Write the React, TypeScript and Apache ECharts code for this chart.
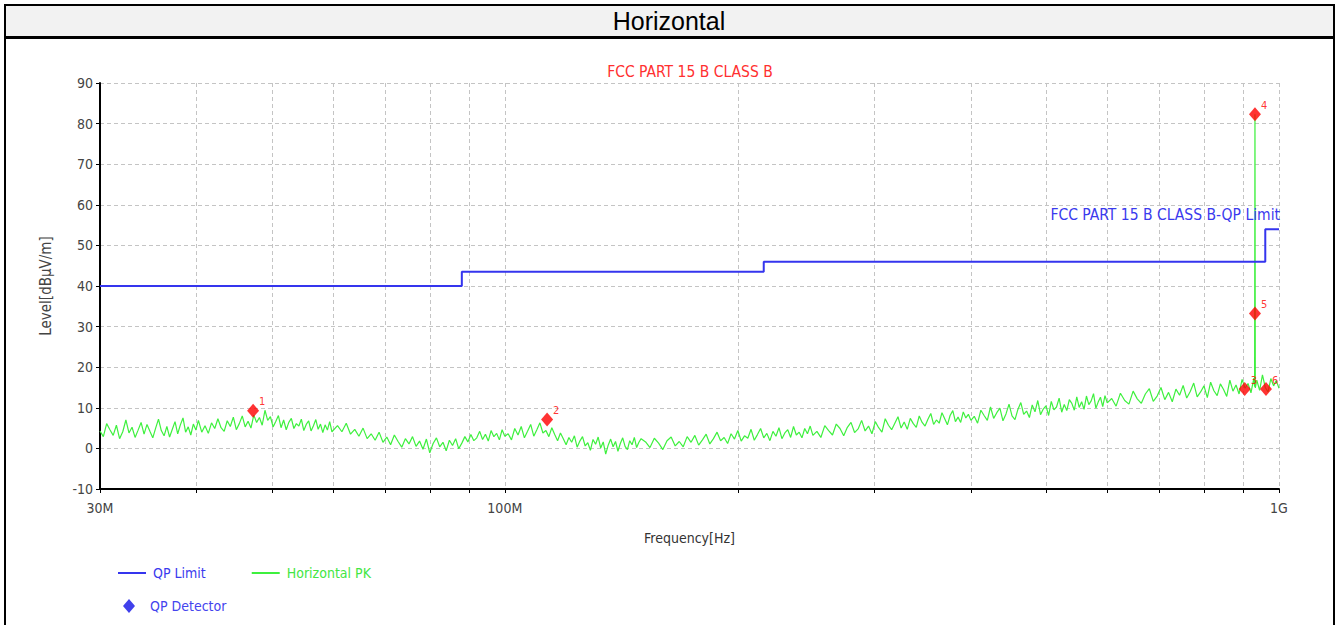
import React, { useEffect, useRef } from 'react';
import * as echarts from 'echarts';

const FONT = '"Liberation Sans Narrow", "DejaVu Sans Condensed", "Liberation Sans", Arial, sans-serif';
const WIDE = '"Liberation Sans", Arial, sans-serif';

const BLUE = '#3535ee';
const GREEN = '#3ef03e';
const RED = '#ff0000';

// Axis ticks / labels (MHz)
const xLabelFreq = [30, 100, 1000];
const xLabelText = ['30M', '100M', '1G'];
const xGridFreq = [30, 40, 50, 60, 70, 80, 90, 100, 200, 300, 400, 500, 600, 700, 800, 900, 1000];
const yMin = -10;
const yMax = 90;
const yStep = 10;

// QP limit (MHz, dBuV/m)
const limitFreq = [30, 88, 88, 216, 216, 960, 960, 1000];
const limitLevel = [40, 40, 43.5, 43.5, 46, 46, 54, 54];

// QP detector points
const qpFreq = [47.3, 113.4, 903, 931, 931, 962];
const qpLevel = [9.3, 7.1, 14.6, 82.3, 33.2, 14.6];
const qpLabel = ['1', '2', '3', '4', '5', '6'];

// Horizontal PK trace (MHz, dBuV/m)
const pkSweepA = [[30,4.3],[30.3,2.9],[30.6,6.1],[30.9,4.6],[31.2,3.2],[31.5,5.7],[31.8,2.4],[32.1,4.1],[32.4,7.0],[32.7,3.8],[33,5.2],[33.3,2.7],[33.6,4.5],[33.9,6.4],[34.2,3.5],[34.5,5.9],[34.8,4.2],[35.1,2.6],[35.4,5.0],[35.7,7.2],[36,4.4],[36.3,3.1],[36.6,5.4],[36.9,2.8],[37.2,4.7],[37.5,6.6],[37.8,3.6],[38.1,5.8],[38.4,7.5],[38.7,4.0],[39,5.3],[39.3,3.3],[39.6,6.0],[39.9,4.5]];
const pkSweepB = [[40.2,6.9],[40.6,4.0],[41,5.6],[41.4,3.7],[41.8,6.3],[42.2,4.9],[42.6,7.3],[43,5.1],[43.4,4.2],[43.8,6.8],[44.2,5.4],[44.6,7.7],[45,4.6],[45.4,6.1],[45.8,8.0],[46.2,5.3],[46.6,6.7],[47,5.0],[47.4,8.2],[47.8,6.4],[48.2,7.6],[48.6,5.7],[49,9.4],[49.4,6.9],[49.8,7.8],[50.2,5.3],[50.6,6.6],[51,8.1],[51.4,5.1],[51.8,7.0],[52.2,4.6],[52.6,6.4],[53,7.4],[53.4,4.9],[53.8,6.1],[54.2,5.5],[54.6,7.2],[55,4.4],[55.4,5.9],[55.8,6.8],[56.2,4.3],[56.6,5.6],[57,7.1],[57.4,4.7],[57.8,6.0],[58.2,3.9],[58.6,5.8],[59,4.5],[59.4,6.6],[59.8,4.1]];
const pkSweepC = [[60.8,5.6],[61.6,4.1],[62.4,6.2],[63.2,3.5],[64,4.7],[64.8,3.0],[65.6,5.0],[66.4,2.4],[67.2,3.6],[68,2.0],[68.8,4.0],[69.6,1.5],[70.4,2.8],[71.2,0.9],[72,3.3],[72.8,1.7],[73.6,0.3],[74.4,2.4],[75.2,1.1],[76,2.9],[76.8,0.5],[77.6,1.8],[78.4,-0.2],[79.2,2.3],[80,-1.1],[80.8,1.2],[81.6,2.6],[82.4,0.4],[83.2,1.5],[84,-0.6],[84.8,2.0],[85.6,0.7],[86.4,2.4],[87.2,-0.1],[88,1.3],[88.8,2.9],[89.6,1.6],[90.4,3.4],[91.2,1.9],[92,2.6],[92.8,4.2],[93.6,2.2],[94.4,3.5],[95.2,1.8],[96,4.4],[96.8,2.9],[97.6,3.7],[98.4,2.1],[99.2,4.6],[100,3.0]];
const pkSweepD = [[101,3.6],[102,2.1],[103,4.9],[104,3.3],[105,5.4],[106,2.6],[107,4.2],[108,5.9],[109,3.0],[110,4.6],[111,6.3],[112,3.8],[113,4.4],[114,2.9],[115,5.1],[116,3.4],[117,1.9],[118,3.8],[119,2.4],[120,0.9],[121,2.7],[122,1.5],[123,3.1],[124,0.3],[125,1.8],[126,2.9],[127,0.6],[128,1.4],[129,-0.5],[130,2.2],[131,1.0],[132,2.8],[133,0.1],[134,1.6],[135,-1.4],[136,0.8],[137,2.3],[138,0.4],[139,1.7],[140,-0.7],[141,1.2],[142,2.6],[143,0.5],[144,-0.3],[145,1.9],[146,0.9],[147,2.7],[148,0.2],[149,1.5],[150,2.4]];
const pkSweepE = [[152,1.6],[154,0.2],[156,2.5],[158,1.3],[160,-0.3],[162,1.9],[164,2.8],[166,0.6],[168,1.7],[170,0.4],[172,2.9],[174,1.5],[176,3.2],[178,0.8],[180,2.1],[182,3.5],[184,1.1],[186,2.4],[188,4.0],[190,1.9],[192,2.7],[194,1.2],[196,3.6],[198,2.3],[200,4.4],[202,1.8],[204,3.1],[206,2.5],[208,4.7],[210,2.0],[212,3.4],[214,4.9],[216,2.6],[218,3.7],[220,1.9],[222,4.2],[224,3.0],[226,5.1],[228,2.4],[230,3.8],[232,4.6],[234,2.7],[236,5.4],[238,3.3],[240,4.0],[242,2.6],[244,4.9],[246,3.6],[248,5.5],[250,3.2]];
const pkSweepF = [[253,4.2],[256,2.7],[259,5.6],[262,4.4],[265,3.3],[268,6.0],[271,4.9],[274,3.1],[277,5.2],[280,6.4],[283,3.9],[286,4.8],[289,6.9],[292,4.3],[295,5.5],[298,3.6],[301,6.6],[304,5.1],[307,4.0],[310,7.3],[313,5.7],[316,4.6],[319,6.2],[322,7.8],[325,5.0],[328,6.5],[331,4.7],[334,7.4],[337,6.1],[340,5.2],[343,8.0],[346,6.4],[349,5.5],[352,7.2],[355,8.6],[358,5.9],[361,7.0],[364,6.2],[367,8.8],[370,7.3],[373,5.8],[376,8.1],[379,9.3],[382,6.6],[385,7.7],[388,6.4],[391,9.0],[394,7.5],[397,8.4],[400,6.9]];
const pkSweepG = [[404,7.9],[408,6.2],[412,9.4],[416,8.1],[420,6.9],[424,10.2],[428,7.4],[432,8.8],[436,9.9],[440,6.8],[444,8.5],[448,10.9],[452,8.0],[456,7.1],[460,9.6],[464,11.3],[468,8.4],[472,9.2],[476,7.6],[480,10.7],[484,9.0],[488,11.8],[492,8.3],[496,9.7],[500,10.5],[504,8.1],[508,11.6],[512,9.5],[516,10.2],[520,12.4],[524,8.9],[528,10.8],[532,9.3],[536,12.0],[540,11.1],[544,9.4],[548,12.7],[552,10.1],[556,11.5],[560,9.6],[564,12.9],[568,10.8],[572,11.7],[576,13.5],[580,9.9],[584,11.4],[588,12.6],[592,10.3],[596,13.0],[600,11.2]];
const pkSweepH = [[608,12.3],[616,10.4],[624,13.6],[632,11.8],[640,10.9],[648,14.1],[656,12.2],[664,11.1],[672,13.4],[680,14.7],[688,11.6],[696,12.9],[704,15.0],[712,12.0],[720,13.8],[728,11.5],[736,14.6],[744,13.1],[752,15.5],[760,12.4],[768,14.0],[776,16.1],[784,12.7],[792,13.9],[800,15.4],[808,12.5],[816,16.3],[824,14.2],[832,13.0],[840,15.9],[848,14.5],[856,12.8],[864,16.8],[872,14.1],[880,15.6],[888,13.4],[896,17.0],[904,14.8],[912,16.0],[920,13.7],[928,17.3],[930,15.2],[931,82.3],[932,14.9],[936,16.8],[944,14.3],[952,18.1],[960,15.0],[968,13.9],[976,17.2],[984,15.4],[992,16.7],[1000,14.8]];

const lg = (f: number) => Math.log10(f);

export default function App() {
  const ref = useRef<HTMLDivElement>(null);

  useEffect(() => {
    if (!ref.current) return;
    const chart = echarts.init(ref.current, null, { renderer: 'svg' });

    const pk = [...pkSweepA, ...pkSweepB, ...pkSweepC, ...pkSweepD, ...pkSweepE, ...pkSweepF, ...pkSweepG, ...pkSweepH]
      .map(([f, v]) => [lg(f), v]);
    const limit = limitFreq.map((f, i) => [lg(f), limitLevel[i]]);
    const qp = qpFreq.map((f, i) => ({ value: [lg(f), qpLevel[i]], name: qpLabel[i] }));

    const labelLogs = xLabelFreq.map(lg);
    const gridLogs = xGridFreq.map(lg);
    const fmtX = (v: number) => {
      let best = 0;
      let d = Infinity;
      labelLogs.forEach((l, i) => {
        if (Math.abs(l - v) < d) { d = Math.abs(l - v); best = i; }
      });
      return xLabelText[best];
    };

    chart.setOption({
      animation: false,
      backgroundColor: '#ffffff',
      grid: { left: 100, right: 59, top: 83, bottom: 136, containLabel: false },
      xAxis: {
        type: 'value',
        min: lg(30),
        max: 3,
        name: 'Frequency[Hz]',
        nameLocation: 'middle',
        nameGap: 42,
        nameTextStyle: { fontFamily: FONT, fontSize: 14, color: '#333' },
        axisLine: { show: true, onZero: false, lineStyle: { color: '#000', width: 2 } },
        axisTick: { show: true, length: 4, customValues: gridLogs, lineStyle: { color: '#000' } },
        axisLabel: {
          customValues: labelLogs,
          formatter: fmtX,
          fontFamily: FONT,
          fontSize: 14,
          color: '#444',
          margin: 12,
        },
        splitLine: { show: true, customValues: gridLogs, lineStyle: { color: '#c4c4c4', type: [4, 3], width: 1 } },
      },
      yAxis: {
        type: 'value',
        min: yMin,
        max: yMax,
        interval: yStep,
        name: 'Level[dBμV/m]',
        nameLocation: 'middle',
        nameGap: 47,
        nameRotate: 90,
        nameTextStyle: { fontFamily: FONT, fontSize: 15, color: '#444' },
        axisLine: { show: true, onZero: false, lineStyle: { color: '#000', width: 2 } },
        axisTick: { show: true, length: 4, lineStyle: { color: '#000' } },
        axisLabel: { fontFamily: FONT, fontSize: 14, color: '#444', margin: 7 },
        splitLine: { show: true, lineStyle: { color: '#c4c4c4', type: [4, 3], width: 1 } },
      },
      legend: [
        {
          left: 118,
          top: 566,
          padding: 0,
          itemWidth: 28,
          itemHeight: 2,
          itemGap: 46,
          data: [
            { name: 'QP Limit', icon: 'rect', textStyle: { color: '#3a3aee' } },
            { name: 'Horizontal PK', icon: 'rect', textStyle: { color: '#44e644' } },
          ],
          textStyle: { fontFamily: FONT, fontSize: 14, padding: [0, 0, 0, 2] },
        },
        {
          left: 123,
          top: 599,
          padding: 0,
          itemWidth: 12,
          itemHeight: 14,
          icon: 'diamond',
          data: [{ name: 'QP Detector', itemStyle: { color: '#1010e6' }, textStyle: { color: '#4444ee' } }],
          textStyle: { fontFamily: FONT, fontSize: 14, padding: [0, 0, 0, 10] },
        },
      ],
      graphic: [
        { type: 'rect', silent: true, shape: { x: 5, y: 5, width: 1329, height: 32 }, style: { fill: '#f2f2f2' } },
        { type: 'line', silent: true, shape: { x1: 4, y1: 5, x2: 1335, y2: 5 }, style: { stroke: '#000', lineWidth: 2 } },
        { type: 'line', silent: true, shape: { x1: 4, y1: 37.5, x2: 1335, y2: 37.5 }, style: { stroke: '#000', lineWidth: 3 } },
        { type: 'line', silent: true, shape: { x1: 5, y1: 4, x2: 5, y2: 625 }, style: { stroke: '#000', lineWidth: 2 } },
        { type: 'line', silent: true, shape: { x1: 1334, y1: 4, x2: 1334, y2: 625 }, style: { stroke: '#000', lineWidth: 2 } },
        {
          type: 'text', silent: true, x: 669, y: 21,
          style: { text: 'Horizontal', fontFamily: WIDE, fontSize: 25, fill: '#000', align: 'center', verticalAlign: 'middle' },
        },
        {
          type: 'text', silent: true, x: 690, y: 72,
          style: { text: 'FCC PART 15 B CLASS B', fontFamily: FONT, fontSize: 15.5, fill: '#ff3030', align: 'center', verticalAlign: 'middle' },
        },
        {
          type: 'text', silent: true, x: 1280, y: 215, z: 10,
          style: { text: 'FCC PART 15 B CLASS B-QP Limit', fontFamily: FONT, fontSize: 15.5, fill: '#3a3aee', align: 'right', verticalAlign: 'middle' },
        },
      ],
      series: [
        {
          name: 'Horizontal PK',
          type: 'line',
          data: pk,
          symbol: 'none',
          lineStyle: { color: GREEN, width: 1.2 },
          itemStyle: { color: GREEN },
          z: 2,
        },
        {
          name: 'QP Limit',
          type: 'line',
          data: limit,
          symbol: 'none',
          lineStyle: { color: BLUE, width: 2 },
          itemStyle: { color: BLUE },
          z: 3,
        },
        {
          name: 'QP Detector',
          type: 'scatter',
          data: qp,
          symbol: 'diamond',
          symbolSize: [12, 14],
          itemStyle: { color: RED },
          z: 5,
          label: {
            show: true,
            formatter: (p: any) => p.name,
            position: 'right',
            distance: 0,
            offset: [0, -9],
            fontFamily: FONT,
            fontSize: 11,
            color: RED,
          },
        },
      ],
    });

    return () => chart.dispose();
  }, []);

  return (
    <div
      ref={ref}
      style={{ position: 'absolute', left: 0, top: 0, width: 1338, height: 625 }}
    />
  );
}
